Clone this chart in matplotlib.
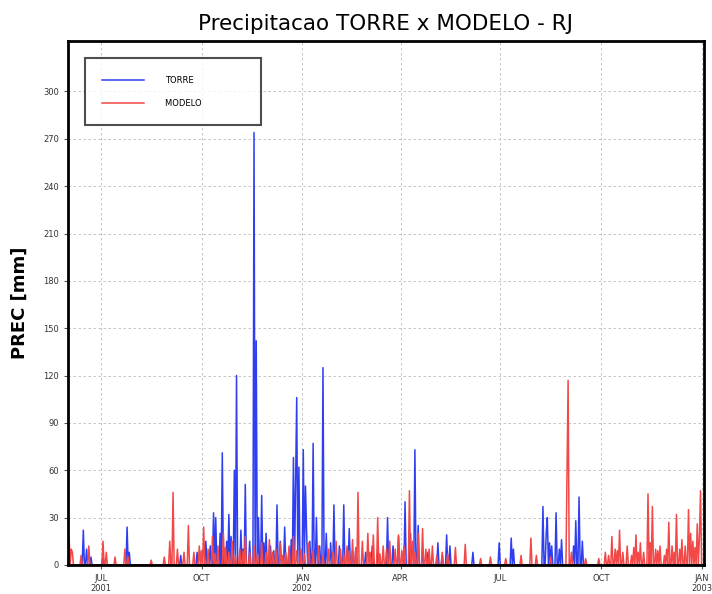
import matplotlib
matplotlib.use("Agg")
import matplotlib.pyplot as plt
import pandas as pd

# daily precipitation, days not listed are zero
torre_dates = [
    "2001-06-15", "2001-06-18", "2001-06-22", "2001-07-03", "2001-07-25", "2001-07-27",
    "2001-09-12", "2001-09-27", "2001-10-05", "2001-10-12", "2001-10-14", "2001-10-18",
    "2001-10-20", "2001-10-24", "2001-10-26", "2001-10-31", "2001-11-02", "2001-11-06",
    "2001-11-10", "2001-11-14", "2001-11-18", "2001-11-20", "2001-11-22", "2001-11-25",
    "2001-11-29", "2001-12-03", "2001-12-09", "2001-12-12", "2001-12-16", "2001-12-20",
    "2001-12-24", "2001-12-26", "2001-12-27", "2001-12-29", "2002-01-02", "2002-01-04",
    "2002-01-05", "2002-01-08", "2002-01-11", "2002-01-14", "2002-01-20", "2002-01-23",
    "2002-01-30", "2002-02-04", "2002-02-08", "2002-02-13", "2002-02-19", "2002-02-28",
    "2002-03-06", "2002-03-20", "2002-03-25", "2002-03-30", "2002-04-05", "2002-04-10",
    "2002-04-14", "2002-04-17", "2002-04-26", "2002-05-05", "2002-05-13", "2002-05-16",
    "2002-06-06", "2002-06-30", "2002-07-11", "2002-07-13", "2002-08-09", "2002-08-12",
    "2002-08-13", "2002-08-17", "2002-08-21", "2002-08-26", "2002-09-08", "2002-09-11",
    "2002-09-14", "2001-10-09", "2001-10-28", "2001-11-08", "2001-11-27", "2001-12-06",
    "2001-12-22", "2002-01-17", "2002-01-27", "2002-02-16", "2002-03-11", "2002-04-21",
    "2002-05-09", "2002-08-15", "2002-08-24", "2002-09-06",
]
torre_vals = [
    22, 10, 5, 6, 24, 8,
    6, 8, 15, 33, 30, 20,
    71, 15, 32, 60, 120, 22,
    51, 15, 274, 142, 30, 44,
    20, 12, 38, 15, 24, 10,
    68, 55, 106, 62, 73, 50,
    22, 15, 77, 30, 125, 20,
    38, 12, 38, 23, 10, 8,
    12, 30, 12, 18, 40, 20,
    73, 25, 8, 14, 19, 12,
    8, 14, 17, 10, 37, 20,
    30, 12, 33, 16, 28, 43,
    15, 12, 18, 10, 14, 9,
    16, 12, 14, 9, 8, 10,
    6, 14, 10, 12,
]

modelo_dates = [
    "2001-06-02", "2001-06-04", "2001-06-05", "2001-06-13", "2001-06-20", "2001-07-03",
    "2001-07-06", "2001-07-14", "2001-07-23", "2001-07-26", "2001-08-16", "2001-08-28",
    "2001-09-02", "2001-09-05", "2001-09-09", "2001-09-15", "2001-09-19", "2001-09-24",
    "2001-09-29", "2001-10-03", "2001-10-07", "2001-10-11", "2001-10-16", "2001-10-21",
    "2001-10-26", "2001-10-29", "2001-11-05", "2001-11-10", "2001-11-14", "2001-11-18",
    "2001-11-25", "2001-11-29", "2001-12-02", "2001-12-08", "2001-12-12", "2001-12-17",
    "2001-12-20", "2001-12-24", "2001-12-31", "2002-01-07", "2002-01-16", "2002-01-25",
    "2002-02-01", "2002-02-05", "2002-02-11", "2002-02-16", "2002-02-21", "2002-02-25",
    "2002-03-02", "2002-03-07", "2002-03-11", "2002-03-16", "2002-03-22", "2002-03-27",
    "2002-03-30", "2002-04-04", "2002-04-09", "2002-04-12", "2002-04-17", "2002-04-21",
    "2002-04-24", "2002-04-30", "2002-05-09", "2002-05-21", "2002-05-30", "2002-06-13",
    "2002-06-22", "2002-07-06", "2002-07-20", "2002-07-29", "2002-08-03", "2002-08-16",
    "2002-08-31", "2002-09-01", "2002-09-04", "2002-09-17", "2002-09-29", "2002-10-05",
    "2002-10-11", "2002-10-14", "2002-10-18", "2002-10-21", "2002-10-25", "2002-10-29",
    "2002-11-02", "2002-11-06", "2002-11-09", "2002-11-13", "2002-11-17", "2002-11-20",
    "2002-11-24", "2002-11-28", "2002-12-02", "2002-12-05", "2002-12-09", "2002-12-12",
    "2002-12-14", "2002-12-17", "2002-12-20", "2002-12-24", "2002-12-28", "2002-12-31",
    "2001-10-01", "2001-10-13", "2001-10-23", "2001-11-01", "2001-11-08", "2001-11-21",
    "2001-12-05", "2001-12-14", "2001-12-27", "2002-01-03", "2002-01-11", "2002-01-20",
    "2002-01-29", "2002-02-08", "2002-02-13", "2002-02-19", "2002-03-04", "2002-03-13",
    "2002-03-19", "2002-04-02", "2002-04-14", "2002-04-27", "2002-05-04", "2002-05-14",
    "2002-10-08", "2002-10-16", "2002-10-31", "2002-11-04", "2002-11-15", "2002-11-22",
    "2002-11-30", "2002-12-07", "2002-12-22", "2002-12-26", "2002-12-30",
]
modelo_vals = [
    18, 10, 8, 6, 12, 15,
    8, 5, 10, 5, 3, 5,
    15, 46, 10, 8, 25, 8,
    12, 24, 10, 18, 12, 20,
    8, 15, 10, 18, 8, 12,
    14, 8, 16, 10, 14, 8,
    12, 18, 10, 14, 12, 10,
    15, 10, 12, 16, 46, 15,
    20, 19, 30, 12, 15, 10,
    19, 12, 47, 15, 20, 23,
    10, 12, 8, 11, 13, 4,
    5, 4, 6, 17, 6, 5,
    60, 117, 8, 4, 4, 8,
    18, 10, 22, 8, 12, 6,
    19, 14, 8, 45, 37, 10,
    12, 6, 27, 12, 32, 10,
    16, 12, 35, 15, 26, 47,
    9, 7, 11, 6, 9, 7,
    8, 6, 9, 7, 9, 6,
    8, 7, 9, 11, 8, 7,
    10, 9, 8, 10, 6, 7,
    6, 9, 11, 8, 14, 9,
    10, 8, 20, 11, 18,
]

tick_dates = ["2001-07-01", "2001-10-01", "2002-01-01", "2002-04-01",
              "2002-07-01", "2002-10-01", "2003-01-01"]
tick_labels = ["JUL\n2001", "OCT", "JAN\n2002", "APR", "JUL", "OCT", "JAN\n2003"]
y_ticks = [0, 30, 60, 90, 120, 150, 180, 210, 240, 270, 300]

days = pd.date_range("2001-06-01", "2003-01-02", freq="D")
torre = pd.Series(0.0, index=days)
torre[pd.to_datetime(torre_dates)] = torre_vals
modelo = pd.Series(0.0, index=days)
modelo[pd.to_datetime(modelo_dates)] = modelo_vals

fig = plt.figure(figsize=(7.12, 5.94), dpi=100)
ax = fig.add_axes([0.0955, 0.049, 0.893, 0.882])

ax.plot(torre.index, torre.values, color="#2f3ff0", lw=1.1, label="TORRE")
ax.plot(modelo.index, modelo.values, color="#f24848", lw=1.1, label="MODELO")

ax.set_xlim(pd.Timestamp("2001-06-01"), pd.Timestamp("2003-01-03"))
ax.set_ylim(0, 332)
ax.set_xticks(pd.to_datetime(tick_dates))
ax.set_xticklabels(tick_labels, fontsize=6, color="#333333", linespacing=1.1)
ax.set_yticks(y_ticks)
ax.set_yticklabels([str(v) for v in y_ticks], fontsize=6, color="#333333")
ax.tick_params(length=3, width=0.8, color="#555555")

ax.grid(True, color="#bbbbbb", linestyle=(0, (3, 3)), linewidth=0.6)
ax.set_axisbelow(True)
for s in ax.spines.values():
    s.set_linewidth(2.0)

ax.set_title("Precipitacao TORRE x MODELO - RJ", fontsize=15.5, fontweight="medium", pad=8)
ax.set_ylabel("PREC [mm]", fontsize=13, fontweight="semibold", labelpad=10)

leg = ax.legend(loc="upper left", bbox_to_anchor=(0.02, 0.975), fontsize=6,
                handlelength=5, borderpad=2.1, labelspacing=1.7, handletextpad=2.5,
                fancybox=False, frameon=True)
leg.get_frame().set_edgecolor("#222222")
leg.get_frame().set_linewidth(1.5)
for t in leg.get_texts():
    t.set_text(t.get_text() + " " * 16)

fig.savefig("out.png", dpi=100)
